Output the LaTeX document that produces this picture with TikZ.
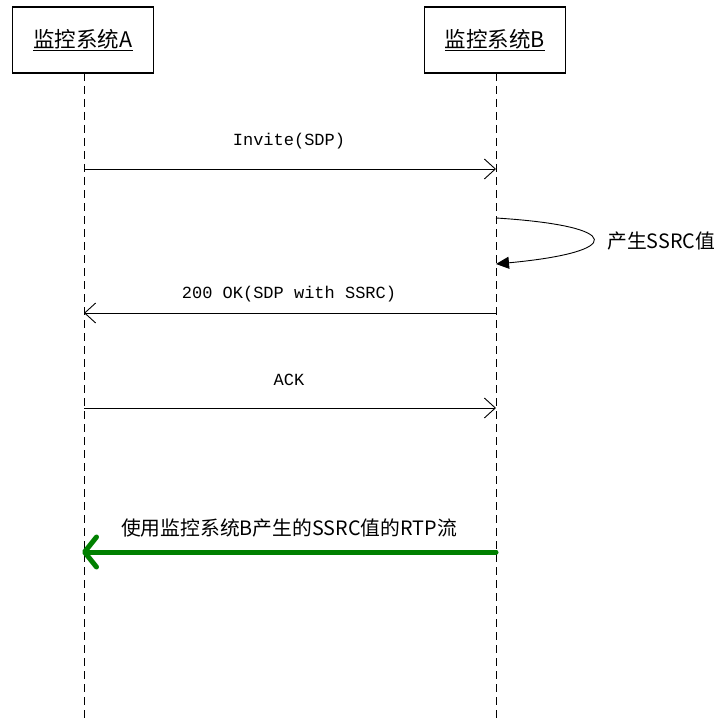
\documentclass[tikz,border=0pt]{standalone}
\usepackage{fontspec}
\newfontfamily\cjk{Noto Sans CJK SC}
\newfontfamily\mono{Liberation Mono}
\usetikzlibrary{arrows.meta}
\begin{document}
\begin{tikzpicture}[x=1pt,y=-1pt,
  actor/.style={draw,line width=1.1pt,minimum width=141pt,minimum height=66pt,inner sep=0pt,font=\cjk\fontsize{21.5}{24}\selectfont},
  life/.style={line width=0.9pt,dash pattern=on 8pt off 5pt},
  msg/.style={line width=0.9pt,-{Straight Barb[length=11pt,width=20pt,line width=0.9pt]}},
  lbl/.style={font=\mono\fontsize{17}{20}\selectfont,inner sep=0pt},
  clbl/.style={font=\cjk\fontsize{19.8}{22}\selectfont,inner sep=0pt}]
\useasboundingbox (0,0) rectangle (717,722);
\node[actor] (A) at (83,40) {\underline{监控系统A}};
\node[actor] (B) at (495,40) {\underline{监控系统B}};
\coordinate (Aend) at (84,722);
\coordinate (Bend) at (496,722);
\draw[life] (84,73) -- (Aend);
\draw[life] (496,73) -- (Bend);
% messages
\coordinate (a1) at (84,169); \coordinate (b1) at (496,169);
\draw[msg] (a1) -- (b1);
\node[lbl] (l1) at (289,141) {Invite(SDP)};
\coordinate (s1) at (496,218); \coordinate (s2) at (496,264);
\draw[line width=0.9pt,-{Triangle[length=13pt,width=12pt]}] (s1) .. controls (625,226) and (625,252) .. (s2);
\node[clbl,anchor=west] (l2) at (607,241) {产生SSRC值};
\coordinate (a2) at (84,313); \coordinate (b2) at (496,313);
\draw[msg] (b2) -- (a2);
\node[lbl] (l3) at (289,294) {200 OK(SDP with SSRC)};
\coordinate (a3) at (84,408); \coordinate (b3) at (496,408);
\draw[msg] (a3) -- (b3);
\node[lbl] (l4) at (289,380) {ACK};
\coordinate (a4) at (82,552); \coordinate (b4) at (496,552);
\draw[line width=5pt,color={rgb,255:red,0;green,128;blue,0},line cap=round,-{Straight Barb[length=12pt,width=30pt,line width=5pt,round]}] (b4) -- (a4);
\node[clbl] (l5) at (289,528) {使用监控系统B产生的SSRC值的RTP流};
\end{tikzpicture}
\end{document}
